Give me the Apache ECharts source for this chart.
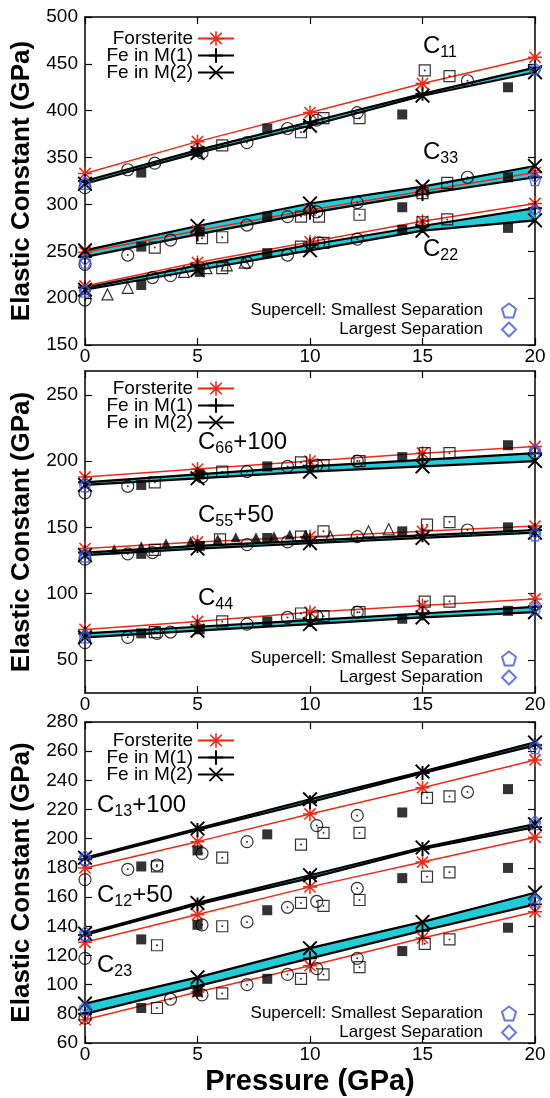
<!DOCTYPE html>
<html>
<head>
<meta charset="utf-8">
<script src="https://cdn.jsdelivr.net/npm/echarts@6/dist/echarts.min.js"></script>
<style>
html, body { margin: 0; padding: 0; background: #fff; }
#chart { width: 550px; height: 1098px; }
</style>
</head>
<body>
<div id="chart"></div>
<script>
// pressures of the computed points (GPa)
var pressure = [0, 5, 10, 15, 20];

// ---- top panel: C11, C33, C22 ----
var c11Fo = [333, 367, 398, 429, 457];
var c11M1 = [325, 358, 388, 418, 446];
var c11M2 = [322, 355, 384, 416, 441];
var c33Fo = [249, 272, 294, 314, 334];
var c33M1 = [244, 268, 291, 311, 329];
var c33M2 = [251, 277, 301, 319, 341];
var c22Fo = [213, 238, 260, 282, 301];
var c22M1 = [211, 235, 257, 277, 296];
var c22M2 = [209, 230, 251, 272, 283];

// measured points, [pressure, value]
var topFilledSq = [[2.5,334],[5.0,356],[8.1,381],[14.1,396],[18.8,425],
  [2.5,255],[5.1,271],[8.1,287],[14.1,297],[18.8,329],
  [2.5,214],[5.1,228],[8.1,248],[14.1,273],[18.8,275]];
var topOpenSq = [[6.1,363],[9.6,377],[10.6,392],[12.2,392],[15.1,443],[16.2,437],
  [3.1,254],[5.2,264],[6.1,265],[9.6,287],[10.4,287],[12.2,289],[15.0,312],[16.1,323],
  [6.1,232],[9.6,255],[10.6,259],[15.0,281],[16.1,284]];
var topOpenCirc = [[0,318],[1.9,337],[3.1,344],[5.2,355],[7.2,366],[9.0,381],[10.3,390],[12.1,398],[17.0,432],
  [0,236],[1.9,246],[3.8,262],[7.2,278],[9.0,287],[10.3,292],[12.1,302],[17.0,329],
  [0,198],[3.0,222],[3.8,224],[7.2,238],[9.0,246],[10.4,259],[12.1,263]];
var topOpenTri = [[1.0,204],[1.9,211],[4.4,228],[5.4,232],[6.3,235],[7.1,238]];
var topPent = [[0,322],[20,445],[0,238],[20,326],[0,207],[20,292]];
var topDiam = [[0,324],[20,443],[0,241],[20,329],[0,209],[20,294]];

// ---- middle panel: C66+100, C55+50, C44 ----
var c66Fo = [188, 194, 200, 206, 211];
var c66M1 = [184, 190, 196, 201, 206];
var c66M2 = [182, 187, 192, 196, 200];
var c55Fo = [134, 139, 143, 147, 151];
var c55M1 = [131, 136, 140, 144, 148];
var c55M2 = [129, 134, 138, 142, 146];
var c44Fo = [73, 79, 86, 91, 96];
var c44M1 = [70, 75, 80, 85, 90];
var c44M2 = [67, 72, 77, 82, 86];

var midFilledSq = [[2.5,182],[5.1,190],[8.1,196],[14.1,203],[18.8,212],
  [2.5,130],[5.1,136],[8.1,142],[14.1,147],[18.8,150],
  [2.5,70],[5.1,73],[8.1,79],[14.1,81],[18.8,87]];
var midOpenSq = [[3.1,184],[6.1,192],[9.6,199],[10.6,197],[12.2,200],[15.1,206],[16.2,206],
  [3.1,133],[6.0,141],[9.6,143],[10.6,147],[15.2,152],[16.2,154],
  [3.1,71],[6.1,79],[9.6,85],[10.6,83],[12.2,86],[15.1,94],[16.2,94]];
var midOpenCirc = [[0,176],[1.9,181],[5.2,188],[7.2,192],[9.0,196],[10.3,197],[12.1,200],
  [0,126],[1.9,130],[3.0,131],[7.2,137],[9.0,139],[12.1,143],[17.0,148],
  [0,63],[1.9,67],[3.2,70],[3.8,71],[7.2,77],[9.0,82],[10.3,83],[12.1,86]];
var midFilledTri = [[1.3,133.5],[2.5,135.7],[3.6,138],[4.7,139.5],[5.9,141],[6.7,142.5],[7.6,142.5],[8.4,143.2],[9.1,144.7],[9.8,144.7]];
var midOpenTri = [[10.9,143],[12.6,147],[13.5,148.5]];
var midPent = [[0,181],[20,207],[0,128],[20,144],[0,67],[20,88]];
var midDiam = [[0,183],[20,209],[0,130],[20,146],[0,69],[20,90]];

// ---- bottom panel: C13+100, C12+50, C23 ----
var c13Fo = [180, 198, 217, 235, 254];
var c13M1 = [186, 206, 225, 245, 264];
var c13M2 = [187, 207, 227, 246, 266];
var c12Fo = [129, 148, 167, 184, 201];
var c12M1 = [134, 155, 173, 193, 208];
var c12M2 = [135, 156, 175, 194, 210];
var c23Fo = [76, 95, 113, 132, 150];
var c23M1 = [80, 99, 118, 137, 155];
var c23M2 = [87, 105, 125, 143, 163];

var botFilledSq = [[2.5,181],[5.0,192],[8.1,203],[14.1,218],[18.8,234],
  [2.5,131],[5.0,141],[8.1,151],[14.1,173],[18.8,180],
  [2.5,84],[5.0,95],[8.1,104],[14.1,123],[18.8,139]];
var botOpenSq = [[3.2,181],[6.1,187],[9.6,196],[10.6,204],[12.2,204],[15.2,228],[16.2,229],
  [3.2,127],[6.1,140],[9.6,156],[10.6,154],[12.2,158],[15.2,174],[16.2,177],
  [3.2,84],[6.1,94],[9.6,104],[10.6,107],[12.2,112],[15.1,128],[16.2,131]];
var botOpenCirc = [[0,172],[1.9,179],[3.2,182],[5.2,190],[7.2,198],[10.3,209],[12.1,216],[17.0,232],
  [0,118],[5.2,141],[7.2,143],[9.0,153],[10.3,157],[12.1,166],
  [0,77],[3.8,90],[5.2,93],[7.2,100],[9.0,107],[10.3,111],[12.1,118]];
var botPent = [[0,186],[20,262],[0,134],[20,210],[0,83],[20,157]];
var botDiam = [[0,188],[20,264],[0,136],[20,212],[0,85],[20,159]];

// axis ranges and tick labels
var yMin = [150, 25, 60];
var yMax = [500, 268, 280];
var yTicks = [
  [150, 200, 250, 300, 350, 400, 450, 500],
  [50, 100, 150, 200, 250],
  [60, 80, 100, 120, 140, 160, 180, 200, 220, 240, 260, 280]
];

var RED = '#f02818', CYAN = '#22ccd6', BLUE = '#3a58d8', FONT = 'Liberation Sans';

// gnuplot style point shapes
var PLUS = 'path://M4.3 0H5.7V4.3H10V5.7H5.7V10H4.3V5.7H0V4.3H4.3Z';
var CROSS = 'path://M0 0.9L0.9 0L5 4.1L9.1 0L10 0.9L5.9 5L10 9.1L9.1 10L5 5.9L0.9 10L0 9.1L4.1 5Z';
var STAR = 'path://M4.45 0H5.55V4.45H10V5.55H5.55V10H4.45V5.55H0V4.45H4.45Z' +
  'M0.6 1.4L1.4 0.6L5 4.2L8.6 0.6L9.4 1.4L5.8 5L9.4 8.6L8.6 9.4L5 5.8L1.4 9.4L0.6 8.6L4.2 5Z';
var PENTA = 'path://M5 0L10 3.8L8.1 10H1.9L0 3.8Z';
var DIAM = 'path://M5 0L10 5L5 10L0 5Z';

function line(k, name, vals, color, symbol, size, width) {
    return {
        name: name, type: 'line', xAxisIndex: k, yAxisIndex: k,
        data: pressure.map(function (p, i) { return [p, vals[i]]; }),
        symbol: symbol, symbolSize: size, showSymbol: true,
        lineStyle: {color: color, width: width},
        itemStyle: {color: color},
        z: 4
    };
}

// cyan band between the two Fe curves
function band(k, lo, hi) {
    return {
        type: 'custom', xAxisIndex: k, yAxisIndex: k, silent: true, z: 3,
        data: [[pressure[0], lo[0]]],
        renderItem: function (params, api) {
            var pts = [];
            pressure.forEach(function (p, i) { pts.push(api.coord([p, lo[i]])); });
            for (var i = pressure.length - 1; i >= 0; i--) pts.push(api.coord([pressure[i], hi[i]]));
            return {type: 'polygon', shape: {points: pts}, style: {fill: CYAN}};
        }
    };
}

function points(k, data, symbol, size, filled) {
    return {
        type: 'scatter', xAxisIndex: k, yAxisIndex: k, data: data,
        symbol: symbol, symbolSize: size, z: 5,
        itemStyle: filled ? {color: '#000'}
            : {color: 'rgba(0,0,0,0)', borderColor: '#000', borderWidth: 1.2}
    };
}

// small centre dot gnuplot puts in open symbols
function dots(k, data) {
    return {type: 'scatter', xAxisIndex: k, yAxisIndex: k, data: data,
        symbol: 'circle', symbolSize: 2, itemStyle: {color: '#000'}, z: 5};
}

function supercell(k, pent, diam) {
    return [{
        name: 'Supercell: Smallest Separation', type: 'scatter', xAxisIndex: k, yAxisIndex: k,
        data: pent, symbol: PENTA, symbolSize: 11, z: 6,
        itemStyle: {color: 'rgba(0,0,0,0)', borderColor: BLUE, borderWidth: 1.4}
    }, {
        name: 'Largest Separation', type: 'scatter', xAxisIndex: k, yAxisIndex: k,
        data: diam, symbol: DIAM, symbolSize: 11, z: 6,
        itemStyle: {color: 'rgba(0,0,0,0)', borderColor: BLUE, borderWidth: 1.4}
    }];
}

function panel(k, curves, fsq, osq, ocirc, extra, pent, diam) {
    var s = [];
    curves.forEach(function (c) {
        s.push(band(k, c[1], c[2]));
        s.push(line(k, 'Forsterite', c[0], RED, STAR, 14, 1.5));
        s.push(line(k, 'Fe in M(1)', c[1], '#000', PLUS, 14, 2.2));
        s.push(line(k, 'Fe in M(2)', c[2], '#000', CROSS, 15, 2.2));
    });
    s.push(points(k, fsq, 'rect', 10, true));
    s.push(points(k, osq, 'rect', 11, false));
    s.push(points(k, ocirc, 'circle', 12, false));
    s.push(dots(k, osq), dots(k, ocirc));
    extra.forEach(function (e) { s.push(e); });
    return s.concat(supercell(k, pent, diam));
}

var series = [].concat(
    panel(0, [[c11Fo, c11M1, c11M2], [c33Fo, c33M1, c33M2], [c22Fo, c22M1, c22M2]],
        topFilledSq, topOpenSq, topOpenCirc,
        [points(0, topOpenTri, 'triangle', 11, false)], topPent, topDiam),
    panel(1, [[c66Fo, c66M1, c66M2], [c55Fo, c55M1, c55M2], [c44Fo, c44M1, c44M2]],
        midFilledSq, midOpenSq, midOpenCirc,
        [points(1, midFilledTri, 'triangle', 10, true), points(1, midOpenTri, 'triangle', 11, false)],
        midPent, midDiam),
    panel(2, [[c13Fo, c13M1, c13M2], [c12Fo, c12M1, c12M2], [c23Fo, c23M1, c23M2]],
        botFilledSq, botOpenSq, botOpenCirc, [], botPent, botDiam)
);

var grids = [
    {left: 85, right: 15, top: 17, height: 328},
    {left: 85, right: 15, top: 371, height: 322},
    {left: 85, right: 15, top: 722, height: 321}
];

var axisLine = {onZero: false, lineStyle: {color: '#000', width: 1.5}};
var xAxes = [], yAxes = [];
[0, 1, 2].forEach(function (k) {
    xAxes.push({
        gridIndex: k, type: 'value', min: 0, max: 20, interval: 5, position: 'bottom',
        axisLine: axisLine, splitLine: {show: false},
        axisTick: {inside: true, length: 7, lineStyle: {color: '#000', width: 1.2}},
        axisLabel: {color: '#000', fontSize: 19, fontFamily: FONT, margin: 2},
        name: k === 2 ? 'Pressure (GPa)' : '', nameLocation: 'middle', nameGap: 24,
        nameTextStyle: {color: '#000', fontSize: 29, fontWeight: 'bold', fontFamily: FONT}
    });
    yAxes.push({
        gridIndex: k, type: 'value', min: yMin[k], max: yMax[k], position: 'left',
        axisLine: axisLine, splitLine: {show: false},
        axisTick: {inside: true, length: 7, customValues: yTicks[k], lineStyle: {color: '#000', width: 1.2}},
        axisLabel: {color: '#000', fontSize: 19, fontFamily: FONT, margin: 7, customValues: yTicks[k]},
        name: 'Elastic Constant (GPa)', nameLocation: 'middle', nameRotate: 90, nameGap: 50,
        nameTextStyle: {color: '#000', fontSize: 26, fontWeight: 'bold', fontFamily: FONT}
    });
});
// mirrored ticks on the top and right frame
[0, 1, 2].forEach(function (k) {
    xAxes.push({
        gridIndex: k, type: 'value', min: 0, max: 20, interval: 5, position: 'top',
        axisLine: axisLine, splitLine: {show: false}, axisLabel: {show: false},
        axisTick: {inside: true, length: 7, lineStyle: {color: '#000', width: 1.2}}
    });
    yAxes.push({
        gridIndex: k, type: 'value', min: yMin[k], max: yMax[k], position: 'right',
        axisLine: axisLine, splitLine: {show: false}, axisLabel: {show: false},
        axisTick: {inside: true, length: 7, customValues: yTicks[k], lineStyle: {color: '#000', width: 1.2}}
    });
});

function calcLegend(top) {
    return {
        data: ['Forsterite', 'Fe in M(1)', 'Fe in M(2)'],
        orient: 'vertical', align: 'right', right: 315, top: top, padding: 0,
        itemWidth: 36, itemHeight: 18, itemGap: -2, selectedMode: false,
        textStyle: {color: '#000', fontSize: 19, fontFamily: FONT, lineHeight: 16}
    };
}
function cellLegend(top) {
    return {
        data: ['Supercell: Smallest Separation', 'Largest Separation'],
        orient: 'vertical', align: 'right', right: 33, top: top, padding: 0,
        itemWidth: 42, itemHeight: 14, itemGap: 2, selectedMode: false,
        textStyle: {color: '#000', fontSize: 17, fontFamily: FONT, lineHeight: 14}
    };
}

function label(x, y, main, sub, tail) {
    return {
        type: 'text', left: x, top: y, z: 10,
        style: {
            text: '{c|' + main + '}{s|' + sub + '}' + (tail ? '{c|' + tail + '}' : ''),
            fill: '#000',
            rich: {
                c: {fontSize: 24, fontFamily: FONT, lineHeight: 30, verticalAlign: 'middle'},
                s: {fontSize: 16, fontFamily: FONT, lineHeight: 30, verticalAlign: 'bottom'}
            }
        }
    };
}

var chart = echarts.init(document.getElementById('chart'), null, {renderer: 'canvas'});
chart.setOption({
    animation: false,
    backgroundColor: '#fff',
    grid: grids,
    xAxis: xAxes,
    yAxis: yAxes,
    legend: [calcLegend(29), cellLegend(302), calcLegend(379), cellLegend(650), calcLegend(731), cellLegend(1005)],
    graphic: [
        label(423, 34, 'C', '11'),
        label(423, 140, 'C', '33'),
        label(423, 237, 'C', '22'),
        label(198, 430, 'C', '66', '+100'),
        label(198, 503, 'C', '55', '+50'),
        label(198, 586, 'C', '44'),
        label(97, 793, 'C', '13', '+100'),
        label(97, 883, 'C', '12', '+50'),
        label(97, 953, 'C', '23')
    ],
    series: series
});
</script>
</body>
</html>
